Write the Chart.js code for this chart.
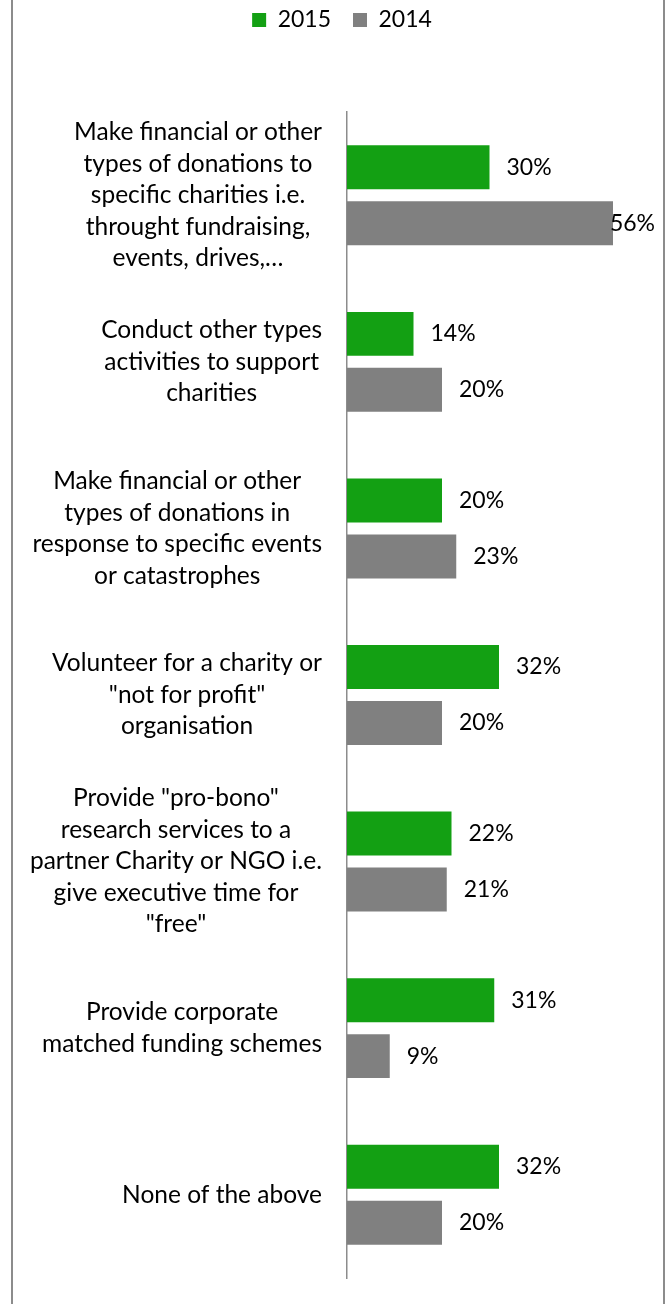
<!DOCTYPE html>
<html>
<head>
<meta charset="utf-8">
<script src="https://cdn.jsdelivr.net/npm/chart.js@4/dist/chart.umd.min.js"></script>
<style>
  html, body { margin: 0; padding: 0; background: #ffffff; }
  #wrap { position: relative; width: 669px; height: 1304px; }
</style>
</head>
<body>
<div id="wrap"><canvas id="chart" width="669" height="1304"></canvas></div>
<script>
// Activities, one array of wrapped lines per category
const categories = [
  ["Make financial or other", "types of donations to", "specific charities i.e.", "throught fundraising,", "events, drives,…"],
  ["Conduct other types", "activities to support", "charities"],
  ["Make financial or other", "types of donations in", "response to specific events", "or catastrophes"],
  ["Volunteer for a charity or", "\"not for profit\"", "organisation"],
  ["Provide \"pro-bono\"", "research services to a", "partner Charity or NGO i.e.", "give executive time for", "\"free\""],
  ["Provide corporate", "matched funding schemes"],
  ["None of the above"]
];
const seriesNames = ["2015", "2014"];
const values2015 = [30, 14, 20, 32, 22, 31, 32];
const values2014 = [56, 20, 23, 20, 21, 9, 20];

const FONT = "Lato, 'Open Sans', sans-serif";
const LABEL_SIZE = 24.5;
const VALUE_SIZE = 23;
const LEGEND_SIZE = 23;
const GREEN = "#13a013";
const GREY = "#808080";

// Thin grey frame down both sides of the page
const framePlugin = {
  id: "frame",
  beforeDraw(chart) {
    const ctx = chart.ctx;
    ctx.save();
    ctx.strokeStyle = "#8c8c8c";
    ctx.lineWidth = 2;
    ctx.beginPath();
    ctx.moveTo(12, 0); ctx.lineTo(12, chart.height);
    ctx.moveTo(664, 0); ctx.lineTo(664, chart.height);
    ctx.stroke();
    ctx.restore();
  }
};

// Legend band occupies the top of the canvas, centred on the page
const legendBandPlugin = {
  id: "legendBand",
  beforeInit(chart) {
    const origFit = chart.legend.fit;
    chart.legend.fit = function () {
      origFit.call(this);
      this.height = 112;
    };
  },
  afterLayout(chart) {
    const lg = chart.legend;
    lg.top = 20 - 22 - LEGEND_SIZE / 2;
    lg.bottom = lg.top + lg.height;
    lg.left = 15;
    lg.right = 669;
  }
};

// Multi-line category labels, each line centred within its block, block right-aligned to the axis
const categoryLabelPlugin = {
  id: "categoryLabels",
  afterDraw(chart) {
    const ctx = chart.ctx;
    const yScale = chart.scales.y;
    const rightEdge = chart.chartArea.left - 25;
    const lineH = 31.5;
    ctx.save();
    ctx.font = LABEL_SIZE + "px " + FONT;
    ctx.fillStyle = "#000000";
    ctx.textAlign = "center";
    ctx.textBaseline = "middle";
    categories.forEach((lines, i) => {
      const cy = yScale.getPixelForValue(i);
      const maxW = Math.max(...lines.map(l => ctx.measureText(l).width));
      const cx = rightEdge - maxW / 2;
      const y0 = cy - (lines.length - 1) * lineH / 2;
      lines.forEach((l, k) => ctx.fillText(l, cx, y0 + k * lineH));
    });
    ctx.restore();
  }
};

// Percentage labels just past the end of each bar
const valueLabelPlugin = {
  id: "valueLabels",
  afterDraw(chart) {
    const ctx = chart.ctx;
    ctx.save();
    ctx.font = VALUE_SIZE + "px " + FONT;
    ctx.fillStyle = "#000000";
    ctx.textAlign = "left";
    ctx.textBaseline = "middle";
    chart.data.datasets.forEach((ds, di) => {
      const meta = chart.getDatasetMeta(di);
      meta.data.forEach((bar, i) => {
        const txt = ds.data[i] + "%";
        const w = ctx.measureText(txt).width;
        let x = bar.x + 17;
        if (x + w > 655) x = 655 - w;
        ctx.fillText(txt, x, bar.y);
      });
    });
    ctx.restore();
  }
};

new Chart(document.getElementById("chart"), {
  type: "bar",
  data: {
    labels: categories,
    datasets: [
      { label: seriesNames[0], data: values2015, backgroundColor: GREEN, borderWidth: 0,
        categoryPercentage: 0.672, barPercentage: 0.786 },
      { label: seriesNames[1], data: values2014, backgroundColor: GREY, borderWidth: 0,
        categoryPercentage: 0.672, barPercentage: 0.786 }
    ]
  },
  options: {
    indexAxis: "y",
    responsive: false,
    animation: false,
    layout: { padding: { left: 0, right: 37, top: 0, bottom: 26 } },
    scales: {
      x: { display: false, min: 0, max: 60 },
      y: {
        grid: { display: false },
        border: { display: true, color: "#8c8c8c", width: 1.5 },
        ticks: { display: false },
        afterFit(scale) { scale.width = 347; }
      }
    },
    plugins: {
      tooltip: { enabled: false },
      legend: {
        position: "top",
        align: "center",
        labels: {
          boxWidth: 14,
          boxHeight: 14,
          padding: 22,
          color: "#000000",
          font: { family: FONT, size: LEGEND_SIZE }
        }
      }
    }
  },
  plugins: [framePlugin, legendBandPlugin, categoryLabelPlugin, valueLabelPlugin]
});
</script>
</body>
</html>
